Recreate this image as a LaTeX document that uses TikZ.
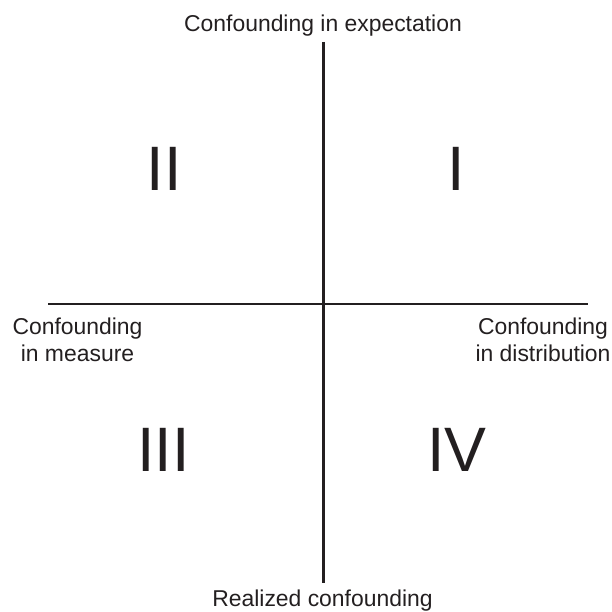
\documentclass[tikz,border=0pt]{standalone}
\usepackage{fontspec}
\setmainfont{Liberation Sans}
\usepackage{tikz}

\definecolor{ink}{HTML}{231F20}

\begin{document}
\begin{tikzpicture}[x=1bp, y=-1bp,
                    axis/.style={draw=ink, line width=2.2bp},
                    numeral/.style={text=ink, anchor=base, inner sep=0pt, font=\fontsize{63}{63}\selectfont},
                    caption/.style={text=ink, anchor=base, inner sep=0pt, align=center, font=\fontsize{23}{27}\selectfont}]

            \useasboundingbox (0,0) rectangle (612,612);

            \coordinate (top)    at (323.5,42);
            \coordinate (bottom) at (323.5,583);
            \coordinate (left)   at (48,304);
            \coordinate (right)  at (588,304);

            \draw[axis] (top) -- (bottom);
            \draw[axis] (left) -- (right);

            \node[numeral] (q1) at (456,190)   {I};
            \node[numeral] (q2) at (164,190)   {II};
            \node[numeral] (q3) at (163.5,471) {III};
            \node[numeral] (q4) at (457,471)   {IV};

            \node[caption] (expect)  at (323,32)    {Confounding in expectation};
            \node[caption] (realize) at (322.5,606) {Realized confounding};
            \node[caption, anchor=north] (measure) at (77.5,318)
                {Confounding\\in measure};
            \node[caption, anchor=north] (distrib) at (543,318)
                {Confounding\\in distribution};
        \end{tikzpicture}
\end{document}
